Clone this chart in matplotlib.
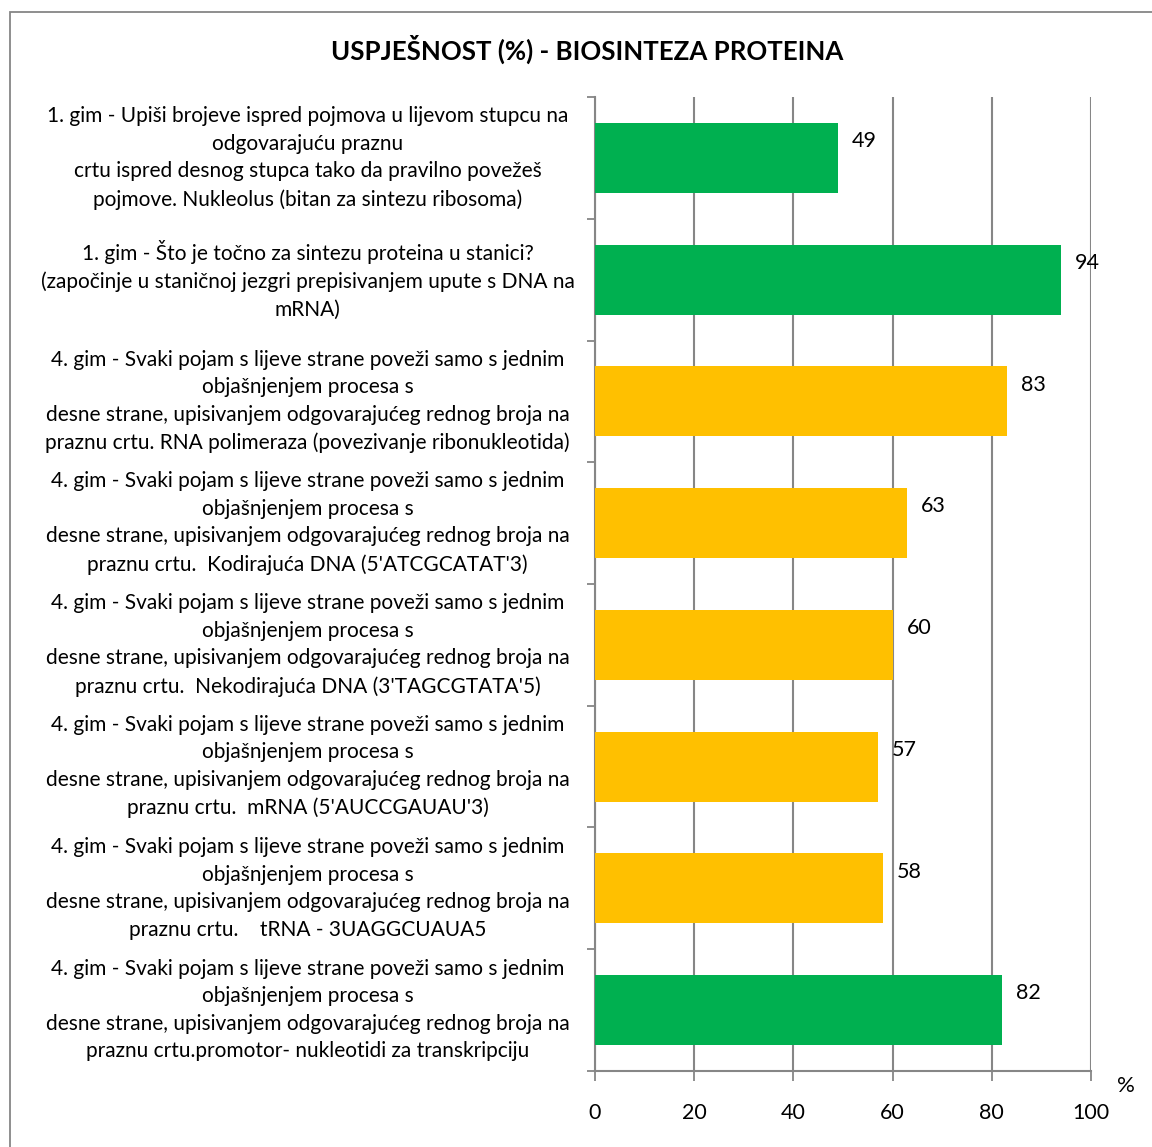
import matplotlib
matplotlib.use("Agg")
import matplotlib.pyplot as plt
from matplotlib.patches import Rectangle

plt.rcParams['font.family'] = ['Lato', 'DejaVu Sans']

# podaci
prefix4 = ("4. gim - Svaki pojam s lijeve strane poveži samo s jednim\n"
           "objašnjenjem procesa s\n"
           "desne strane, upisivanjem odgovarajućeg rednog broja na\n")
categories = [
    "1. gim - Upiši brojeve ispred pojmova u lijevom stupcu na\n"
    "odgovarajuću praznu\n"
    "crtu ispred desnog stupca tako da pravilno povežeš\n"
    "pojmove. Nukleolus (bitan za sintezu ribosoma)",
    "1. gim - Što je točno za sintezu proteina u stanici?\n"
    "(započinje u staničnoj jezgri prepisivanjem upute s DNA na\n"
    "mRNA)",
    prefix4 + "praznu crtu. RNA polimeraza (povezivanje ribonukleotida)",
    prefix4 + "praznu crtu.  Kodirajuća DNA (5'ATCGCATAT'3)",
    prefix4 + "praznu crtu.  Nekodirajuća DNA (3'TAGCGTATA'5)",
    prefix4 + "praznu crtu.  mRNA (5'AUCCGAUAU'3)",
    prefix4 + "praznu crtu.    tRNA - 3UAGGCUAUA5",
    prefix4 + "praznu crtu.promotor- nukleotidi za transkripciju",
]
values = [49, 94, 83, 63, 60, 57, 58, 82]
colors = ['#00B050', '#00B050', '#FFC000', '#FFC000', '#FFC000', '#FFC000', '#FFC000', '#00B050']
xticks = [0, 20, 40, 60, 80, 100]


def main():
    fig = plt.figure(figsize=(11.52, 11.47), dpi=100)
    ax = fig.add_axes([0.5165, 0.0663, 0.4305, 0.8491])

    n = len(values)
    pos = list(range(n))
    ax.barh(pos, values, height=0.575, color=colors, zorder=3)
    ax.set_ylim(n - 0.5, -0.5)
    ax.set_xlim(0, 100)

    # vrijednosti uz stupce
    for p, v in zip(pos, values):
        ax.annotate(str(v), (v, p), xytext=(10, 12), textcoords='offset points',
                    va='center', ha='left', fontsize=15.5, color='black', zorder=4)

    # kategorije kao tekst
    ax.set_yticks([])
    for p, c in zip(pos, categories):
        ax.annotate(c, (0, p), xycoords=('axes fraction', 'data'),
                    xytext=(-207, 0), textcoords='offset points',
                    ha='center', va='center', multialignment='center',
                    fontsize=15.0, linespacing=1.47)

    # granice kategorija
    ax.set_yticks([i - 0.5 for i in range(n + 1)], minor=True)
    ax.tick_params(axis='y', which='minor', length=6, color='#868686', width=1.3)

    ax.set_xticks(xticks)
    ax.tick_params(axis='x', length=7, color='#868686', width=1.3, labelsize=15.5, pad=16)
    ax.grid(axis='x', color='#868686', linewidth=1.5, zorder=0)
    for s in ['top', 'right']:
        ax.spines[s].set_visible(False)
    for s in ['left', 'bottom']:
        ax.spines[s].set_color('#868686')
        ax.spines[s].set_linewidth(1.5)

    fig.text(0.977, 0.053, '%', fontsize=16, ha='center', va='center')
    fig.text(0.51, 0.957, 'USPJEŠNOST (%) - BIOSINTEZA PROTEINA', fontsize=18.6,
             fontweight='bold', ha='center', va='center')

    # okvir grafikona
    fig.patches.append(Rectangle((10 / 1152, -0.1), 1.2, 1.1 - 12 / 1147,
                                 transform=fig.transFigure, fill=False,
                                 edgecolor='#868686', linewidth=1.3))

    fig.savefig('out.png', dpi=100)
    plt.close(fig)


if __name__ == "__main__":
    main()
